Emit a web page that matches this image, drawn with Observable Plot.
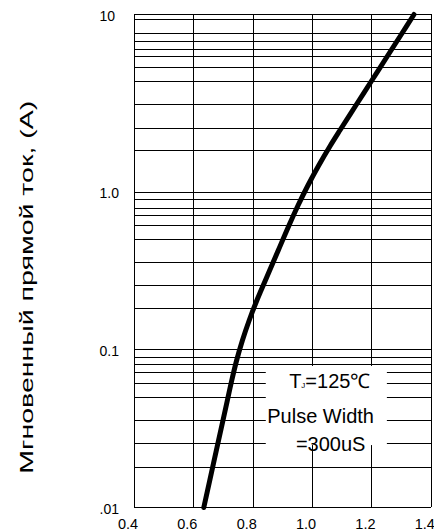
<!DOCTYPE html>
<html><head><meta charset="utf-8">
<script src="https://cdn.jsdelivr.net/npm/d3@7"></script>
<script src="https://cdn.jsdelivr.net/npm/@observablehq/plot@0.6"></script>
<style>html,body{margin:0;padding:0;background:#fff;}</style>
</head><body><div id="chart"></div>
<script>
// Forward voltage (V) vs instantaneous forward current (A)
const forwardVoltage = [0.6335, 0.6535, 0.6757, 0.698, 0.7128, 0.7276, 0.744, 0.7635, 0.7863, 0.8121, 0.8262, 0.8552, 0.8842, 0.9204, 0.9509, 0.9842, 1.0206, 1.0601, 1.0917, 1.1456, 1.1995, 1.2534, 1.2966, 1.3417];
const forwardCurrent = [0.01, 0.01483, 0.02298, 0.0356, 0.04771, 0.06387, 0.08553, 0.1145, 0.1534, 0.2053, 0.2375, 0.3179, 0.4259, 0.6133, 0.8211, 1.088, 1.41, 1.828, 2.221, 3.072, 4.248, 5.875, 7.616, 10];

const xTicks = [0.4, 0.6, 0.8, 1.0, 1.2, 1.4];
const xTickLabels = ["0.4", "0.6", "0.8", "1.0", "1.2", "1.4"];
const yTicks = [0.01, 0.1, 1, 10];
const yTickLabels = [".01", "0.1", "1.0", "10"];
// horizontal grid lines as drawn on the sheet
const yGridTop = [10, 9.33, 7.79, 7.02, 6.38, 5.80, 5.01, 4.19, 3.10, 2.29, 1.71];
const yGridMid = [1.0, 0.892, 0.79, 0.71, 0.613, 0.5, 0.356, 0.254, 0.182];
const yGridLow = [0.1, 0.0894, 0.0803, 0.0715, 0.0614, 0.0496, 0.0355, 0.0253, 0.0180, 0.01];
const yTitle = "Мгновенный прямой ток, (A)";
const noteLines = ["TJ=125℃", "Pulse Width", "=300uS"];
const noteX = [1.058, 1.027, 1.061];
const noteY = [0.0629, 0.0376, 0.0249];
const noteBoxX = [0.844, 1.252];
const noteBoxY = [0.0247, 0.0784];

const curve = forwardVoltage.map((v, k) => ({v, i: forwardCurrent[k]}));
const notes = noteLines.map((t, k) => ({t, x: noteX[k], y: noteY[k]}));
const yGrid = [...yGridTop, ...yGridMid, ...yGridLow];
const xLab = new Map(xTicks.map((d, k) => [d, xTickLabels[k]]));
const yLab = new Map(yTicks.map((d, k) => [d, yTickLabels[k]]));

const chart = Plot.plot({
  width: 434,
  height: 531,
  marginLeft: 134,
  marginRight: 3.2,
  marginTop: 14,
  marginBottom: 24,
  style: {fontFamily: "'Liberation Sans', Arial, sans-serif", fontSize: "14px", color: "#000", background: "#fff"},
  x: {domain: [0.4, 1.4], label: null},
  y: {type: "log", domain: yTicks, range: [507, 349.3, 191.5, 14], label: null},
  marks: [
    Plot.ruleY(yGrid, {stroke: "#000", strokeWidth: 1, shapeRendering: "crispEdges"}),
    Plot.ruleX(xTicks, {stroke: "#000", strokeWidth: 1, shapeRendering: "crispEdges"}),
    Plot.rect([{}], {x1: () => noteBoxX[0], x2: () => noteBoxX[1], y1: () => noteBoxY[0], y2: () => noteBoxY[1], fill: "#fff"}),
    Plot.line(curve, {x: "v", y: "i", stroke: "#000", strokeWidth: 5, strokeLinecap: "round", strokeLinejoin: "round", curve: "catmull-rom"}),
    Plot.text(notes, {x: "x", y: "y", text: "t", fontSize: 20, textAnchor: "middle", lineAnchor: "middle", fill: "#000"}),
    Plot.axisX({ticks: xTicks, tickFormat: d => xLab.get(d), tickSize: 0, tickPadding: 11, dx: -6.5, fontSize: 14.5, label: null}),
    Plot.axisY({ticks: yTicks, tickFormat: d => yLab.get(d), tickSize: 0, tickPadding: 35, textAnchor: "start", dy: 2, fontSize: 14, label: null}),
    Plot.text([yTitle], {text: d => d, frameAnchor: "left", textAnchor: "middle", lineAnchor: "middle", rotate: -90, dx: -107.3, dy: 26.2, fontSize: 18, fill: "#000"})
  ]
});

document.getElementById("chart").appendChild(chart);

// subscript J in the temperature note, stretched axis title
d3.select(chart).selectAll("text").each(function () {
  const s = this.textContent;
  if (s === noteLines[0]) {
    const t = d3.select(this);
    this.textContent = "";
    t.append("tspan").text(s.slice(0, 1));
    t.append("tspan").attr("font-size", 8).text(s.slice(1, 2));
    t.append("tspan").text(s.slice(2));
  } else if (s === yTitle) {
    d3.select(this).attr("textLength", 373).attr("lengthAdjust", "spacingAndGlyphs");
  }
});
</script>
</body></html>
